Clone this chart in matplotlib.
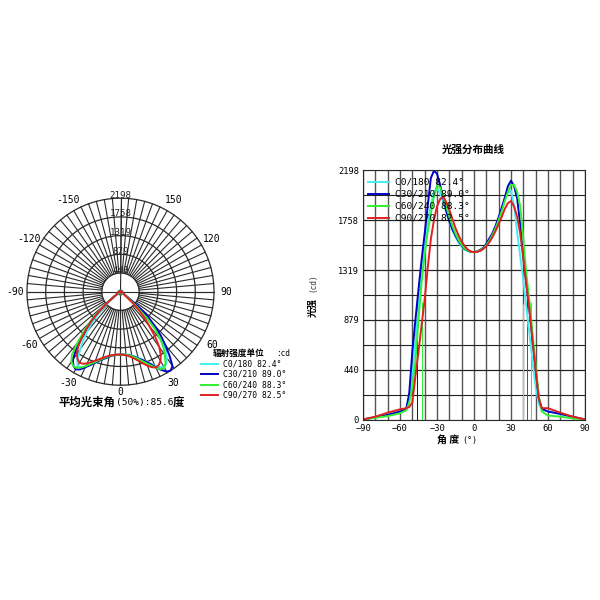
import numpy as np
import matplotlib
matplotlib.use('Agg')
import matplotlib.pyplot as plt
from matplotlib.lines import Line2D

angles = [-90, -80, -70, -60, -55, -52.5, -50, -47.5, -45, -42.5, -40, -37.5, -35, -32.5, -30, -27.5,
          -25, -22.5, -20, -17.5, -15, -12.5, -10, -7.5, -5, -2.5, 0,
          2.5, 5, 7.5, 10, 12.5, 15, 17.5, 20, 22.5, 25, 27.5, 30, 32.5, 35, 37.5, 40, 42.5, 45, 47.5,
          50, 52.5, 55, 60, 70, 80, 90]
c0_180 = [0, 20, 45, 75, 85, 190, 400, 700, 1000, 1290, 1530, 1740, 1900, 2010, 2040, 2000,
          1920, 1830, 1745, 1670, 1610, 1560, 1525, 1500, 1485, 1480, 1478,
          1482, 1492, 1512, 1545, 1590, 1640, 1700, 1780, 1860, 1940, 2000, 2020, 1890, 1650, 1440, 1230, 990, 750, 510,
          290, 140, 85, 75, 45, 20, 0]
c30_210 = [0, 20, 40, 70, 90, 234, 600, 880, 1150, 1408, 1640, 1890, 2130, 2196, 2170, 2070,
           1960, 1840, 1750, 1680, 1625, 1575, 1535, 1505, 1490, 1480, 1478,
           1483, 1497, 1515, 1552, 1600, 1645, 1710, 1785, 1870, 1960, 2060, 2108, 2060, 1950, 1720, 1440, 1190, 960, 700,
           440, 190, 95, 70, 50, 25, 0]
c60_240 = [0, 15, 30, 55, 80, 150, 280, 510, 880, 1210, 1460, 1660, 1815, 1970, 2065, 2050,
           1970, 1880, 1790, 1710, 1640, 1585, 1540, 1510, 1490, 1480, 1478,
           1482, 1492, 1510, 1540, 1580, 1630, 1690, 1760, 1840, 1930, 2010, 2070, 2070, 2010, 1880, 1590, 1280, 1040, 760,
           480, 210, 70, 35, 25, 10, 0]
c90_270 = [0, 25, 60, 90, 100, 110, 150, 380, 600, 830, 1060, 1340, 1590, 1760, 1880, 1945,
           1968, 1920, 1850, 1770, 1690, 1625, 1570, 1530, 1500, 1482, 1478,
           1480, 1488, 1505, 1530, 1565, 1610, 1665, 1725, 1790, 1860, 1910, 1928, 1880, 1790, 1640, 1420, 1190, 960, 690,
           440, 190, 100, 100, 60, 25, 0]
series = [c0_180, c30_210, c60_240, c90_270]
colors = ['#40f0f0', '#0000c8', '#30f030', '#e02020']
names = ['C0/180 82.4°', 'C30/210 89.0°', 'C60/240 88.3°', 'C90/270 82.5°']
# half intensity angles, left and right
beam_left = [-42.4, -45.9, -42.3, -39.7]
beam_right = [40, 43.3, 46, 43.3]
half_vals = [1020, 1099, 1035, 985]

max_cd = 2198
r_ticks = [440, 879, 1319, 1758, 2198]
r_labels = ['440', '879', '1319', '1758', '2198']
polar_ticks = [-150, -120, -90, -60, -30, 0, 30, 60, 90, 120, 150]
x_ticks = [-90, -60, -30, 0, 30, 60, 90]
cjk = 'Noto Sans CJK SC'
mono = 'DejaVu Sans Mono'
grid_c = '#2a2a2a'


def fx(px):
    return px / 600


def fy(py):
    return 1 - py / 600


fig = plt.figure(figsize=(6, 6), dpi=100)

# polar chart, 0 at the bottom
ax1 = fig.add_axes([fx(27), fy(385.2), 187 / 600, 187 / 600], projection='polar')
ax1.set_theta_zero_location('S')
ax1.set_theta_direction(1)
ax1.set_ylim(0, max_cd)
ax1.grid(False)
ax1.set_xticks([])
ax1.set_yticks([])
ax1.spines['polar'].set_visible(False)
ax1.patch.set_alpha(0)

circle = np.radians(np.arange(0, 361, 2))
for r in r_ticks:
    ax1.plot(circle, np.full(circle.shape, r), color=grid_c, lw=0.9, clip_on=False)
for a in range(0, 360, 5):
    ax1.plot([np.radians(a)] * 2, [440, max_cd], color=grid_c, lw=0.8, clip_on=False)
for a in [0, 90, 180, 270]:
    ax1.plot([np.radians(a)] * 2, [0, max_cd], color=grid_c, lw=0.8)
ax1.plot([0], [0], 'o', color='#666666', ms=3.5, zorder=2)

# polar side is mirrored compared to the cartesian one
th = -np.radians(angles)
for vals, c in zip(series, colors):
    ax1.plot(th, vals, color=c, lw=1.4, zorder=3, clip_on=False)

for v, s in zip(r_ticks, r_labels):
    ax1.text(np.pi, v + 70, s, ha='center', va='center', fontsize=6.6, family=mono, color='#222222')
for a in polar_ticks:
    rr = 1.07 if a == 0 else 1.13
    ax1.text(np.radians(a), max_cd * rr, str(a), ha='center', va='center', fontsize=7, family=mono)

fig.text(fx(58), fy(402), '平均光束角', family=cjk, weight='bold', fontsize=8.2, ha='left', va='center')
fig.text(fx(116), fy(402), '(50%):85.6', family=mono, fontsize=6.8, ha='left', va='center')
fig.text(fx(173), fy(402), '度', family=cjk, weight='bold', fontsize=8.2, ha='left', va='center')

fig.text(fx(213), fy(353), '辐射强度单位', family=cjk, weight='bold', fontsize=6.2, ha='left', va='center')
fig.text(fx(276), fy(353), ':cd', family=mono, fontsize=5.6, ha='left', va='center')
for py, c, s in zip([364, 374, 385, 395], colors, names):
    fig.add_artist(Line2D([fx(201), fx(218)], [fy(py), fy(py)], color=c, lw=1.4))
    fig.text(fx(223), fy(py), s, family=mono, fontsize=5.8, ha='left', va='center')

# cartesian chart
ax2 = fig.add_axes([fx(363), fy(419.5), 222 / 600, 249 / 600])
ax2.set_xlim(-90, 90)
ax2.set_ylim(0, max_cd)
ax2.set_xticks(range(-90, 91, 10), minor=True)
ax2.set_yticks([max_cd * k / 10 for k in range(11)], minor=True)
ax2.set_xticks(x_ticks)
ax2.set_yticks([0] + r_ticks)
ax2.set_yticklabels(['0'] + r_labels)
ax2.grid(which='both', axis='x', color='#555555', lw=1.0)
ax2.grid(which='both', axis='y', color='#222222', lw=0.8)
ax2.set_axisbelow(True)
ax2.tick_params(which='both', length=0)
ax2.tick_params(axis='both', labelsize=6.3, pad=3)
for lab in ax2.get_xticklabels() + ax2.get_yticklabels():
    lab.set_family(mono)
for sp in ax2.spines.values():
    sp.set_color(grid_c)
    sp.set_linewidth(0.8)

for c, bl, br, hv in zip(colors, beam_left, beam_right, half_vals):
    ax2.vlines([bl, br], 0, hv, color=c, lw=0.7)
for vals, c in zip(series, colors):
    ax2.plot(angles, vals, color=c, lw=1.4)

fig.text(fx(473), fy(150), '光强分布曲线', family=cjk, weight='bold', fontsize=7.6, ha='center', va='center')
fig.text(fx(437), fy(440), '角 度', family=cjk, weight='bold', fontsize=7.2, ha='left', va='center')
fig.text(fx(462), fy(440), '(°)', family=mono, fontsize=6, ha='left', va='center')
fig.text(fx(313), fy(307.5), '光强', family=cjk, weight='bold', fontsize=6.8, rotation=90, ha='center', va='center')
fig.text(fx(313), fy(283), '(cd)', family=mono, fontsize=5.6, rotation=90, ha='center', va='center', color='#333333')

for py, c, s in zip([181.7, 194, 206, 218], colors, names):
    fig.add_artist(Line2D([fx(368), fx(389)], [fy(py), fy(py)], color=c, lw=1.4))
    fig.text(fx(395), fy(py), s, family=mono, fontsize=6.8, ha='left', va='center')

fig.savefig('out.png', dpi=100)
